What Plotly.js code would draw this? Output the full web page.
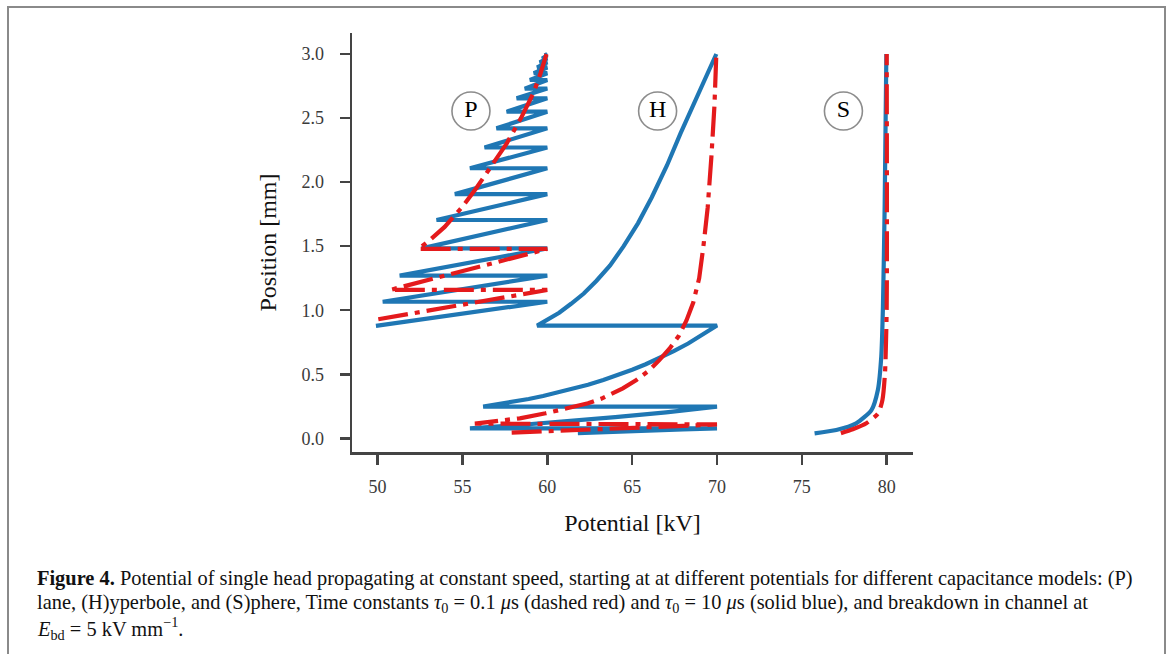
<!DOCTYPE html>
<html>
<head>
<meta charset="utf-8">
<script src="https://cdn.plot.ly/plotly-3.0.1.min.js"></script>
<style>
  html, body { margin: 0; padding: 0; background: #fff; }
  #chart { width: 1171px; height: 654px; }
</style>
</head>
<body>
<div id="chart"></div>
<script>
// ---------- data ----------
// Plane model, tau0 = 10 us (solid blue)
const pBlueV = [49.9, 60.0, 50.3, 60.0, 51.3, 60.0, 52.6, 60.0, 53.47, 60.0, 54.55, 60.0, 55.44, 60.0, 56.3, 60.0, 57.0, 60.0, 57.6, 60.0, 58.19, 60.0, 58.67, 60.0, 58.97, 60.0, 59.2, 60.0, 59.4, 60.0, 59.55, 60.0, 59.7, 60.0, 59.85, 60.0];
const pBlueP = [0.878, 1.066, 1.066, 1.27, 1.27, 1.483, 1.483, 1.704, 1.704, 1.906, 1.906, 2.108, 2.108, 2.27, 2.27, 2.42, 2.42, 2.55, 2.55, 2.654, 2.654, 2.73, 2.73, 2.797, 2.797, 2.85, 2.85, 2.895, 2.895, 2.935, 2.935, 2.965, 2.965, 2.99, 2.99, 3.0];
// Plane model, tau0 = 0.1 us (dash-dot red)
const pRedV = [50.04, 60.0, 50.73, 60.0, 52.4, 53.1, 53.95, 54.95, 55.8, 56.6, 57.6, 58.45, 59.2, 59.6, 59.95];
const pRedP = [0.929, 1.158, 1.158, 1.478, 1.478, 1.55, 1.65, 1.8, 1.95, 2.1, 2.3, 2.5, 2.7, 2.85, 3.0];
// Hyperbole model, tau0 = 10 us
const hBlueV = [61.8, 63.5, 66.0, 68.0, 70.0, 55.44, 58.0, 61.0, 64.0, 67.0, 70.0,
  56.22, 57.1, 58.0, 58.9, 59.75, 60.6, 61.5, 62.4, 63.3, 64.15, 65.0, 65.8, 66.6, 67.45, 68.3, 69.15, 70.0,
  59.4, 60.1, 60.7, 61.4, 62.15, 62.9, 63.7, 64.5, 65.35, 66.15, 67.05, 67.85, 68.85, 69.96];
const hBlueP = [0.04, 0.05, 0.06, 0.07, 0.078, 0.078, 0.1, 0.13, 0.165, 0.203, 0.247,
  0.247, 0.265, 0.285, 0.307, 0.33, 0.356, 0.385, 0.418, 0.455, 0.493, 0.535, 0.578, 0.625, 0.68, 0.74, 0.807, 0.88,
  0.88, 0.93, 0.98, 1.05, 1.13, 1.23, 1.35, 1.5, 1.68, 1.88, 2.13, 2.38, 2.68, 3.0];
// Hyperbole model, tau0 = 0.1 us
const hRedV = [57.9, 61.0, 64.0, 67.0, 70.0,
  55.73, 56.8, 58.38, 59.9, 61.3, 62.4, 63.2, 63.85, 64.45, 65.25, 66.0, 66.6, 67.2, 67.75, 68.2, 68.6, 68.95, 69.2, 69.45, 69.67, 69.85, 69.96];
const hRedP = [0.044, 0.06, 0.076, 0.092, 0.108,
  0.115, 0.13, 0.156, 0.195, 0.234, 0.273, 0.31, 0.35, 0.39, 0.455, 0.53, 0.61, 0.70, 0.80, 0.92, 1.06, 1.25, 1.5, 1.8, 2.2, 2.6, 3.0];
// Sphere model, tau0 = 10 us
const sBlueV = [75.75, 77.03, 78.2, 79.1, 79.48, 79.68, 79.78, 79.88, 79.98];
const sBlueP = [0.039, 0.065, 0.117, 0.22, 0.377, 0.637, 1.03, 1.81, 3.0];
// Sphere model, tau0 = 0.1 us
const sRedV = [77.3, 78.0, 78.8, 79.5, 79.75, 79.9, 80.0, 80.0];
const sRedP = [0.039, 0.07, 0.117, 0.195, 0.3, 0.51, 1.03, 3.0];
// circled panel labels
const labelText = ['P', 'H', 'S'];
const labelV = [55.5, 66.5, 77.45];
const labelP = [2.555, 2.555, 2.555];
// axis ticks
const xTicks = [50, 55, 60, 65, 70, 75, 80];
const yTicks = [0.0, 0.5, 1.0, 1.5, 2.0, 2.5, 3.0];

// ---------- styles ----------
const SERIF = 'Liberation Serif, Times New Roman, serif';
const BLUE = '#1f77b4';
const RED = '#e41a1c';
const blueLine = {color: BLUE, width: 4.2};
const redLine = {color: RED, width: 4.2, dash: '30px,7px,5px,7px'};

const traces = [
  {x: pBlueV, y: pBlueP, mode: 'lines', line: blueLine, hoverinfo: 'skip'},
  {x: hBlueV, y: hBlueP, mode: 'lines', line: blueLine, hoverinfo: 'skip'},
  {x: sBlueV, y: sBlueP, mode: 'lines', line: Object.assign({}, blueLine, {shape: 'spline', smoothing: 0.6}), hoverinfo: 'skip'},
  {x: pRedV, y: pRedP, mode: 'lines', line: redLine, hoverinfo: 'skip'},
  {x: hRedV, y: hRedP, mode: 'lines', line: redLine, hoverinfo: 'skip'},
  {x: sRedV, y: sRedP, mode: 'lines', line: Object.assign({}, redLine, {shape: 'spline', smoothing: 0.6}), hoverinfo: 'skip'},
  {x: labelV, y: labelP, text: labelText, mode: 'markers+text', textposition: 'middle center',
   marker: {size: 38, color: 'white', symbol: 'circle', line: {color: '#8c8c8c', width: 1.6}},
   textfont: {family: SERIF, size: 24, color: '#000'}, hoverinfo: 'skip'}
];

// plot area in pixels: x 352..913, y 33..452
const W = 1171, H = 654, L = 352, R = 913, T = 33, B = 452;
const px = v => (v - L) / (R - L);
const py = v => (B - v) / (B - T);

const capFont = {family: SERIF, size: 20.4, color: '#111'};
const captionLines = [
  '<b>Figure 4.</b> Potential of single head propagating at constant speed, starting at at different potentials for different capacitance models: (P)',
  'lane, (H)yperbole, and (S)phere, Time constants <i>τ</i><sub>0</sub> = 0.1 <i>μ</i>s (dashed red) and <i>τ</i><sub>0</sub> = 10 <i>μ</i>s (solid blue), and breakdown in channel at',
  '<i>E</i><sub>bd</sub> = 5 kV mm<sup>−1</sup>.'
];
const captionY = [578, 603, 628];
const annotations = captionLines.map((t, i) => ({
  text: t, xref: 'paper', yref: 'paper', x: px(35), y: py(captionY[i]),
  xanchor: 'left', yanchor: 'middle', showarrow: false, font: capFont, align: 'left'
}));

const axisCommon = {
  showgrid: false, zeroline: false, showline: true, linecolor: '#444', linewidth: 2.5,
  ticks: 'outside', ticklen: 10, tickwidth: 2.5, tickcolor: '#444',
  tickfont: {family: SERIF, size: 18, color: '#3a3a3a'}, mirror: false
};

const layout = {
  width: W, height: H,
  margin: {l: L, r: W - R, t: T, b: H - B, pad: 0},
  paper_bgcolor: '#fff', plot_bgcolor: '#fff',
  showlegend: false,
  font: {family: SERIF},
  xaxis: Object.assign({}, axisCommon, {
    range: [48.49, 81.55], tickvals: xTicks, ticktext: xTicks.map(String), ticklabelstandoff: 7,
    title: {text: 'Potential [kV]', font: {family: SERIF, size: 24, color: '#111'}, standoff: 18}
  }),
  yaxis: Object.assign({}, axisCommon, {
    range: [-0.107, 3.164], tickvals: yTicks, ticktext: yTicks.map(v => v.toFixed(1)), ticklabelstandoff: 12,
    title: {text: 'Position [mm]', font: {family: SERIF, size: 24, color: '#111'}, standoff: 18}
  }),
  annotations: annotations,
  shapes: [{
    type: 'path', xref: 'paper', yref: 'paper', layer: 'above',
    path: `M ${px(8)} ${py(665)} L ${px(8)} ${py(7)} L ${px(1165)} ${py(7)} L ${px(1165)} ${py(665)}`,
    line: {color: '#8a8a8a', width: 2}
  }]
};

Plotly.newPlot('chart', traces, layout, {staticPlot: true, displayModeBar: false});
</script>
</body>
</html>
